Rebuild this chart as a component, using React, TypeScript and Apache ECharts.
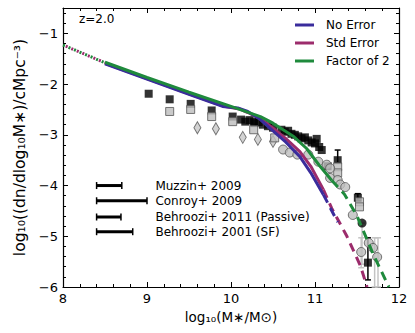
import React, { useEffect, useRef } from "react";
import * as echarts from "echarts";

// ---------- data ----------
const REDSHIFT_LABEL = "z=2.0";

// model lines: [log10 M*, log10 phi]
const LOW_MASS_EXTRAP: [number, number][] = [[8.0, -1.23], [8.5, -1.58]];
const NO_ERROR_SOLID: [number, number][] = [[8.5, -1.6], [9, -1.9], [9.5, -2.2], [9.9, -2.44], [10.08, -2.47], [10.2, -2.54], [10.35, -2.7], [10.5, -2.92], [10.65, -3.14], [10.82, -3.43], [10.95, -3.75], [11.1, -4.18]];
const NO_ERROR_DASH: [number, number][] = [[11.1, -4.18], [11.27, -4.72]];
const STD_ERROR_SOLID: [number, number][] = [[8.5, -1.59], [9, -1.89], [9.5, -2.19], [9.9, -2.43], [10.1, -2.49], [10.2, -2.56], [10.35, -2.68], [10.5, -2.87], [10.65, -3.07], [10.82, -3.33], [10.95, -3.62], [11.1, -4.08]];
const STD_ERROR_DASH: [number, number][] = [[11.1, -4.08], [11.2, -4.45], [11.38, -5.0], [11.54, -5.58], [11.62, -6.0]];
const FACTOR2_SOLID: [number, number][] = [[8.5, -1.57], [9, -1.87], [9.5, -2.16], [10, -2.44], [10.35, -2.64], [10.5, -2.77], [10.75, -3.04], [10.9, -3.27], [11.05, -3.6], [11.2, -3.9]];
const FACTOR2_DASH: [number, number][] = [[11.2, -3.9], [11.35, -4.17], [11.5, -4.6], [11.7, -5.38], [11.88, -6.0]];

// observational points
const BLACK_SQUARES: [number, number][] = [[9.02, -2.19], [9.27, -2.3], [9.52, -2.39], [9.77, -2.52], [10.02, -2.64], [10.27, -2.74], [11.02, -3.08], [11.15, -3.62], [11.27, -3.5], [11.51, -4.24], [11.63, -5.52]];
const GRAY_SQUARES: [number, number][] = [[9.27, -2.54], [9.52, -2.5], [9.77, -2.64], [10.02, -2.74], [10.27, -2.9], [10.52, -3.06], [11.27, -3.63], [11.27, -3.75], [11.53, -4.32], [11.53, -4.42]];
const GRAY_DIAMONDS: [number, number][] = [[9.6, -2.86], [9.82, -2.88], [10.14, -3.05], [10.32, -3.09], [10.5, -3.13]];
const GRAY_CIRCLES: [number, number][] = [[10.62, -3.29], [10.7, -3.35], [10.79, -3.39], [10.92, -3.39], [11.04, -3.53], [11.14, -3.59], [11.18, -3.66], [11.18, -3.85], [11.27, -3.89], [11.3, -3.98], [11.36, -4.03], [11.45, -4.58], [11.55, -5.31], [11.64, -5.13], [11.69, -5.23], [11.74, -5.41]];
const BLACK_CLUSTER: [number, number][] = [[10.12, -2.7], [10.17, -2.74], [10.22, -2.71], [10.28, -2.77], [10.33, -2.75], [10.38, -2.8], [10.44, -2.83], [10.5, -2.86], [10.6, -2.9], [10.64, -2.94], [10.68, -2.92], [10.72, -2.98], [10.76, -3.0], [10.8, -3.03], [10.84, -3.07], [10.88, -3.05], [10.92, -3.11], [10.96, -3.15], [11.0, -3.17], [11.05, -3.24], [11.08, -3.3]];
const BLACK_CIRCLES: [number, number][] = [[11.56, -4.74]];

// vertical error bars: [x, low, high]
const BLACK_ERRBARS: [number, number, number][] = [[11.27, -3.55, -3.3], [11.51, -4.3, -4.16], [11.63, -5.86, -5.03]];
const GRAY_ERRBARS: [number, number, number][] = [[11.56, -5.55, -4.74], [11.55, -5.62, -5.03], [11.71, -6.0, -5.03], [11.75, -6.0, -5.03]];

// systematic-error key (horizontal bars)
const SYS_LABELS = ["Muzzin+ 2009", "Conroy+ 2009", "Behroozi+ 2011 (Passive)", "Behroozi+ 2001 (SF)"];
const SYS_START = [8.4, 8.4, 8.4, 8.4];
const SYS_END = [8.7, 9.0, 8.69, 8.83];
const SYS_Y = [-4.0, -4.3, -4.62, -4.91];
const SYS_LABEL_X = 9.1;

const LEGEND_NAMES = ["No Error", "Std Error", "Factor of 2"];

const X_MIN = 8, X_MAX = 12, Y_MIN = -6, Y_MAX = -0.5;

const BLUE = "#3a2c9c";
const PURPLE = "#9c2c6c";
const GREEN = "#1f8a3c";
const FONT = "DejaVu Sans";

const fmt = (v: number) => {
  if (Math.abs(v - Math.round(v)) > 1e-6) return "";
  return v < 0 ? "\u2212" + Math.abs(Math.round(v)) : String(Math.round(v));
};

function errRender(color: string, width: number) {
  return (params: any, api: any) => {
    const x = api.value(0), lo = api.value(1), hi = api.value(2);
    const p0 = api.coord([x, lo]);
    const p1 = api.coord([x, hi]);
    const cap = 3;
    return {
      type: "group",
      children: [
        { type: "line", shape: { x1: p0[0], y1: p0[1], x2: p1[0], y2: p1[1] }, style: { stroke: color, lineWidth: width } },
        { type: "line", shape: { x1: p0[0] - cap, y1: p0[1], x2: p0[0] + cap, y2: p0[1] }, style: { stroke: color, lineWidth: width } },
        { type: "line", shape: { x1: p1[0] - cap, y1: p1[1], x2: p1[0] + cap, y2: p1[1] }, style: { stroke: color, lineWidth: width } },
      ],
    };
  };
}

function line(data: [number, number][], color: string, type: any, z = 5, dashOffset = 0) {
  return {
    type: "line",
    data,
    symbol: "none",
    silent: true,
    z,
    lineStyle: { color, width: 3, type, dashOffset, cap: "butt" },
  };
}

export default function App() {
  const ref = useRef<HTMLDivElement>(null);
  useEffect(() => {
    if (!ref.current) return;
    const chart = echarts.init(ref.current, undefined, { renderer: "svg" });
    const sysData = SYS_LABELS.map((name, i) => [SYS_START[i], SYS_END[i], SYS_Y[i], i]);
    const axisCommon = {
      type: "value",
      axisLine: { show: true, lineStyle: { color: "#000", width: 1.2 } },
      axisTick: { show: true, inside: true, length: 5, lineStyle: { color: "#000", width: 1 } },
      minorTick: { show: true, splitNumber: 5, length: 3, lineStyle: { color: "#000", width: 1 } },
      splitLine: { show: false },
    };
    const labelStyle = { color: "#000", fontFamily: FONT, fontSize: 13 };
    const legendY = [25, 43, 61];
    const legendColors = [BLUE, PURPLE, GREEN];
    const graphics: any[] = [
      { type: "text", left: 79, top: 13, style: { text: REDSHIFT_LABEL, fill: "#000", font: `12px "${FONT}"` } },
    ];
    LEGEND_NAMES.forEach((n, i) => {
      graphics.push({ type: "line", shape: { x1: 295, y1: legendY[i], x2: 314, y2: legendY[i] }, style: { stroke: legendColors[i], lineWidth: 3 } });
      graphics.push({ type: "text", x: 326, y: legendY[i], style: { text: n, fill: "#000", font: `12px "${FONT}"`, verticalAlign: "middle" } });
    });
    chart.setOption({
      animation: false,
      backgroundColor: "#fff",
      grid: { left: 63, right: 16, top: 8, bottom: 46, containLabel: false },
      xAxis: [
        {
          ...axisCommon,
          min: X_MIN, max: X_MAX, interval: 1, position: "bottom",
          axisLabel: { ...labelStyle, margin: 5, formatter: fmt },
          name: "log\u2081\u2080(M\u2217/M\u2299)",
          nameLocation: "middle",
          nameGap: 20,
          nameTextStyle: { ...labelStyle, fontSize: 13.5, verticalAlign: "top" },
        },
        {
          ...axisCommon,
          min: X_MIN, max: X_MAX, interval: 1, position: "top",
          axisLabel: { show: false },
        },
      ],
      yAxis: [
        {
          ...axisCommon,
          min: Y_MIN, max: Y_MAX, interval: 1, position: "left",
          axisLabel: { ...labelStyle, margin: 5, formatter: fmt },
          name: "log\u2081\u2080((dn/dlog\u2081\u2080M\u2217)/cMpc\u207B\u00B3)",
          nameLocation: "middle",
          nameGap: 29,
          nameTextStyle: { ...labelStyle, fontSize: 15.5 },
        },
        {
          ...axisCommon,
          min: Y_MIN, max: Y_MAX, interval: 1, position: "right",
          axisLabel: { show: false },
        },
      ],
      graphic: graphics,
      series: [
        { type: "scatter", data: GRAY_DIAMONDS, symbol: "diamond", symbolSize: [7, 12], itemStyle: { color: "#c8c8c8", borderColor: "#555", borderWidth: 1 }, z: 2 },
        { type: "scatter", data: BLACK_CLUSTER, symbol: "rect", symbolSize: 8, itemStyle: { color: "#000" }, z: 2 },
        { type: "scatter", data: BLACK_SQUARES, symbol: "rect", symbolSize: 8, itemStyle: { color: "#000" }, z: 2 },
        { type: "scatter", data: GRAY_SQUARES, symbol: "rect", symbolSize: 8, itemStyle: { color: "#bdbdbd", borderColor: "#555", borderWidth: 1 }, z: 3 },
        { type: "custom", data: GRAY_ERRBARS, renderItem: errRender("#c4c4c4", 1.5), z: 2, silent: true },
        { type: "custom", data: BLACK_ERRBARS, renderItem: errRender("#000", 1.5), z: 3, silent: true },
        { type: "scatter", data: GRAY_CIRCLES, symbol: "circle", symbolSize: 9, itemStyle: { color: "#bdbdbd", borderColor: "#555", borderWidth: 1 }, z: 3 },
        { type: "scatter", data: BLACK_CIRCLES, symbol: "circle", symbolSize: 9, itemStyle: { color: "#000" }, z: 3 },
        line(LOW_MASS_EXTRAP, GREEN, [2, 4], 5, 0),
        line(LOW_MASS_EXTRAP, PURPLE, [2, 4], 5, 3),
        line(STD_ERROR_SOLID, PURPLE, "solid", 5),
        line(NO_ERROR_SOLID, BLUE, "solid", 6),
        line(FACTOR2_SOLID, GREEN, "solid", 7),
        line(NO_ERROR_DASH, BLUE, [9, 6], 6),
        line(STD_ERROR_DASH, PURPLE, [9, 6], 5),
        line(FACTOR2_DASH, GREEN, [9, 6], 7),
        {
          type: "custom",
          data: sysData,
          silent: true,
          z: 4,
          renderItem: (params: any, api: any) => {
            const x0 = api.value(0), x1 = api.value(1), y = api.value(2), i = api.value(3);
            const a = api.coord([x0, y]);
            const b = api.coord([x1, y]);
            const t = api.coord([SYS_LABEL_X, y]);
            const cap = 3.5;
            return {
              type: "group",
              children: [
                { type: "line", shape: { x1: a[0], y1: a[1], x2: b[0], y2: b[1] }, style: { stroke: "#000", lineWidth: 3 } },
                { type: "line", shape: { x1: a[0], y1: a[1] - cap, x2: a[0], y2: a[1] + cap }, style: { stroke: "#000", lineWidth: 1.5 } },
                { type: "line", shape: { x1: b[0], y1: b[1] - cap, x2: b[0], y2: b[1] + cap }, style: { stroke: "#000", lineWidth: 1.5 } },
                { type: "text", x: t[0], y: t[1], style: { text: SYS_LABELS[i], fill: "#000", font: `12px "${FONT}"`, verticalAlign: "middle", align: "left" } },
              ],
            };
          },
        },
      ],
    });
    return () => chart.dispose();
  }, []);
  return <div ref={ref} style={{ width: 415, height: 333, position: "absolute", left: 0, top: 0 }} />;
}
